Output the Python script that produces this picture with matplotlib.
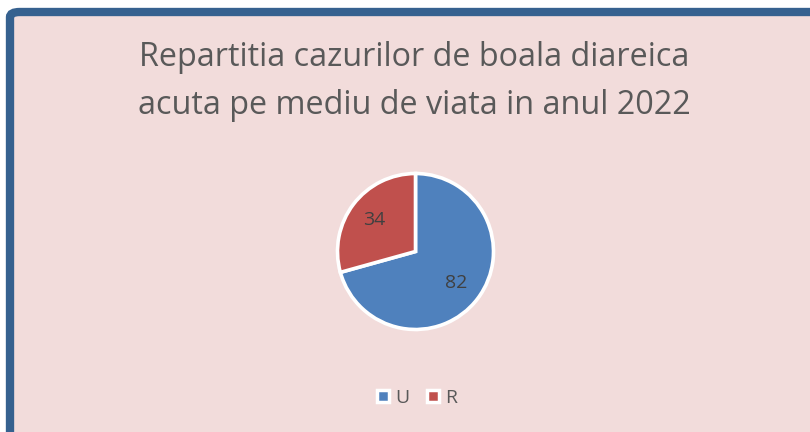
import matplotlib.pyplot as plt
from matplotlib.patches import FancyBboxPatch
from matplotlib.lines import Line2D

# data
categories = ["U", "R"]
values = [82, 34]
colors = ["#4F81BD", "#C0504D"]
title_lines = ["Repartitia cazurilor de boala diareica",
               "acuta pe mediu de viata in anul 2022"]

W, H = 810, 432
fig = plt.figure(figsize=(W / 100, H / 100), dpi=100)
fig.patch.set_facecolor("white")

# background panel with thick blue frame (bottom and right cut off)
panel = FancyBboxPatch(
    (10 / W, -20 / H), (W + 20) / W, (H + 20 - 12) / H,
    boxstyle="round,pad=0,rounding_size=0.012",
    transform=fig.transFigure, facecolor="#F2DCDB",
    edgecolor="#36618F", linewidth=6, zorder=-5,
)
fig.patches.append(panel)

font = ["Open Sans", "DejaVu Sans"]
fig.text(414 / W, 1 - 58 / H, title_lines[0], ha="center", va="center",
         fontsize=23.3, color="#595959", family=font)
fig.text(414 / W, 1 - 105 / H, title_lines[1], ha="center", va="center",
         fontsize=23.3, color="#595959", family=font)

# pie
cx, cy, half = 415.5, 251.5, 82
ax = fig.add_axes([(cx - half) / W, (H - cy - half) / H, 2 * half / W, 2 * half / H])
ax.set_zorder(2)
total = sum(values)
wedges, texts, autotexts = ax.pie(
    values, colors=colors, startangle=90, counterclock=False,
    radius=78 / half,
    autopct=lambda p: f"{round(p * total / 100)}", pctdistance=0.66,
    wedgeprops=dict(edgecolor="white", linewidth=2.6),
    textprops=dict(fontsize=14, color="#404040", family=font),
)
ax.set_xlim(-1, 1)
ax.set_ylim(-1, 1)
ax.set_aspect("equal")
ax.set_axis_off()

# legend
handles = [Line2D([], [], marker="s", linestyle="none", markersize=9,
                  markerfacecolor=c, markeredgecolor="white", markeredgewidth=2.5)
           for c in colors]
leg = fig.legend(handles, categories, loc="center", bbox_to_anchor=(416 / W, 1 - 398 / H),
                 ncol=2, frameon=False, handlelength=0.8, handletextpad=0.25,
                 columnspacing=0.8, prop=dict(family=font, size=14),
                 labelcolor="#595959")
leg.set_zorder(3)

fig.savefig("out.png", dpi=100, facecolor=fig.get_facecolor())
